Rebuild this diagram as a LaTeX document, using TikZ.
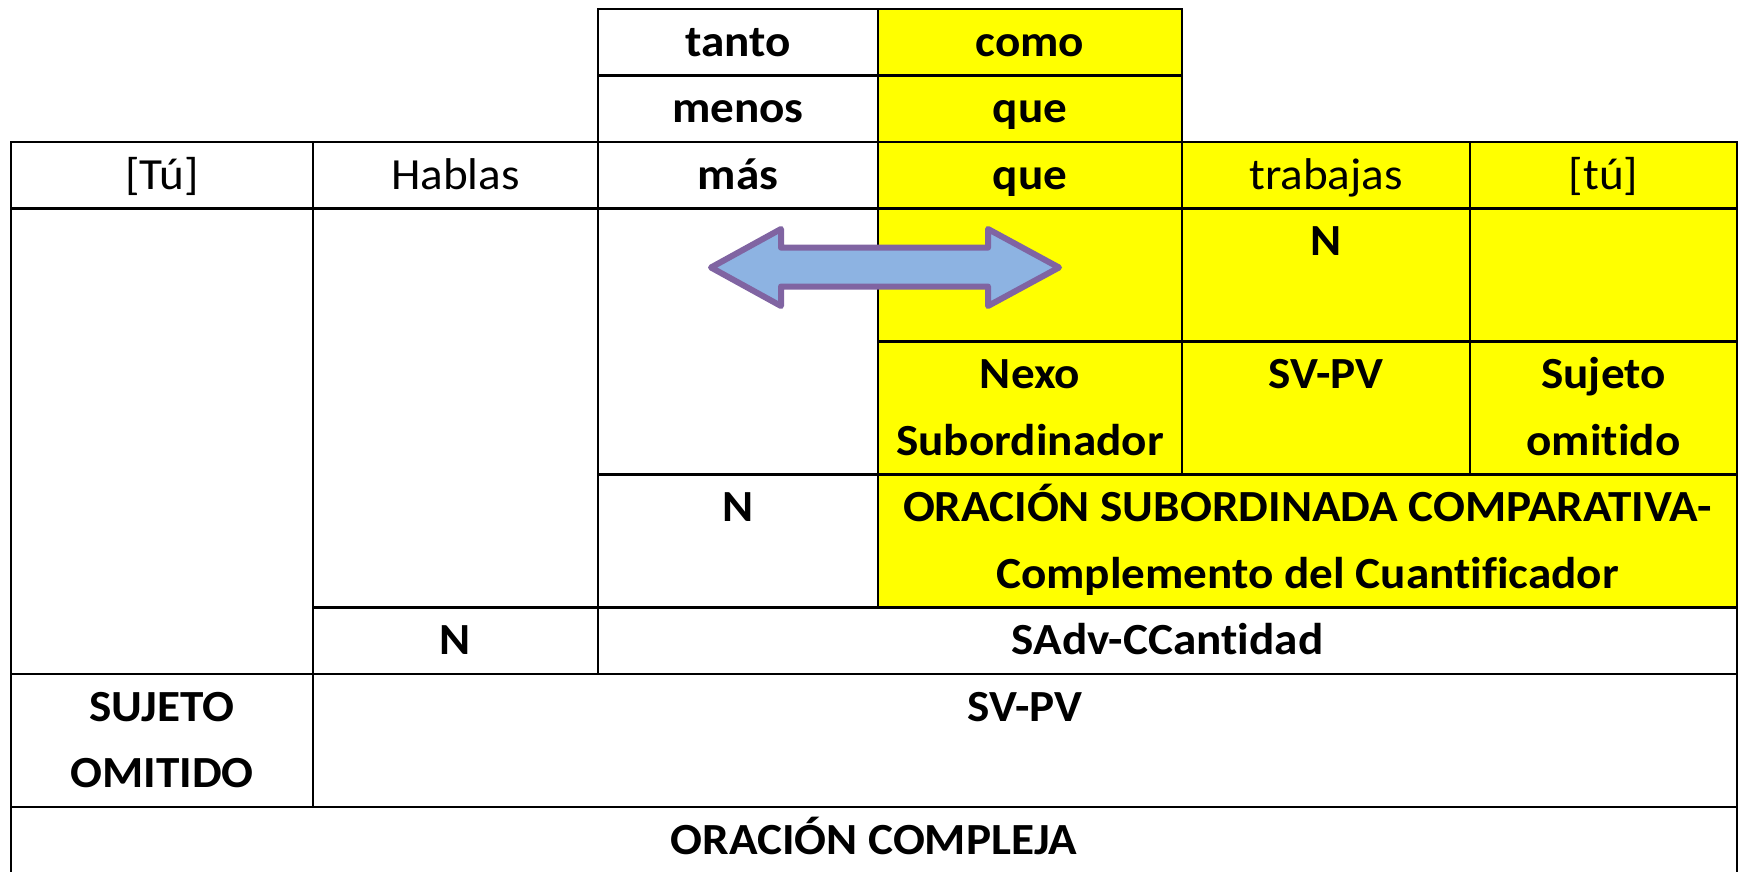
\documentclass[tikz,border=0pt]{standalone}
\usepackage{fontspec}
\setmainfont{Carlito}[FakeStretch=1.06,Ligatures=NoCommon]
\definecolor{yel}{HTML}{FFFF00}
\definecolor{arrfill}{HTML}{8DB3E2}
\definecolor{arrline}{HTML}{8064A2}
\begin{document}
\begin{tikzpicture}[x=1pt,y=-1pt,line width=2.5pt,
  ybox/.style={fill=yel,draw=black},
  wbox/.style={fill=white,draw=black},
  txt/.style={anchor=base,inner sep=0pt,font=\fontsize{44.5}{53}\selectfont},
  btxt/.style={anchor=base,inner sep=0pt,font=\fontsize{44.5}{53}\selectfont\bfseries},
  dblarrow/.style={fill=arrfill,draw=arrline,line width=6pt,line join=round}]
\useasboundingbox (0,0) rectangle (1740,872);
\clip (0,0) rectangle (1740,872);
% ---------- cells ----------
% top table
\path[wbox] (598,8.9) rectangle (878,75.4);
\path[ybox] (878,8.9) rectangle (1182,75.4);
\path[wbox] (598,75.4) rectangle (878,142);
\path[ybox] (878,75.4) rectangle (1182,142);
% word row
\path[wbox] (11,142) rectangle (313,208.5);
\path[wbox] (313,142) rectangle (598,208.5);
\path[wbox] (598,142) rectangle (878,208.5);
\path[ybox] (878,142) rectangle (1182,208.5);
\path[ybox] (1182,142) rectangle (1470,208.5);
\path[ybox] (1470,142) rectangle (1737,208.5);
% big block
\path[wbox] (11,208.5) rectangle (313,674);
\path[wbox] (313,208.5) rectangle (598,607.5);
\path[wbox] (598,208.5) rectangle (878,474.5);
\path[ybox] (878,208.5) rectangle (1182,341.5);
\path[ybox] (1182,208.5) rectangle (1470,341.5);
\path[ybox] (1470,208.5) rectangle (1737,341.5);
\path[ybox] (878,341.5) rectangle (1182,474.5);
\path[ybox] (1182,341.5) rectangle (1470,474.5);
\path[ybox] (1470,341.5) rectangle (1737,474.5);
\path[wbox] (598,474.5) rectangle (878,607.5);
\path[ybox] (878,474.5) rectangle (1737,607.5);
\path[wbox] (313,607.5) rectangle (598,674);
\path[wbox] (598,607.5) rectangle (1737,674);
\path[wbox] (11,674) rectangle (313,807);
\path[wbox] (313,674) rectangle (1737,807);
\path[wbox] (11,807) rectangle (1737,873.5);
% ---------- texts ----------
\node[btxt] (tanto) at (738,56.2) {tanto};
\node[btxt] (como) at (1030,56.2) {como};
\node[btxt] (menos) at (738,122.7) {menos};
\node[btxt] (que1) at (1030,122.7) {que};
\node[txt] (tu) at (162,189.3) {[Tú]};
\node[txt] (hablas) at (455.5,189.3) {Hablas};
\node[btxt] (mas) at (738,189.3) {más};
\node[btxt] (que2) at (1030,189.3) {que};
\node[txt] (trabajas) at (1326,189.3) {trabajas};
\node[txt] (tu2) at (1603.5,189.3) {[tú]};
\node[btxt] (Ntrab) at (1326,255.8) {N};
\node[btxt] (nexo1) at (1030,388.8) {Nexo};
\node[btxt] (nexo2) at (1030,455.3) {Subordinador};
\node[btxt] (svpv2) at (1326,388.8) {SV-PV};
\node[btxt] (suj1) at (1603.5,388.8) {Sujeto};
\node[btxt] (suj2) at (1603.5,455.3) {omitido};
\node[btxt] (Nmas) at (738,521.8) {N};
\node[btxt] (osc1) at (1307.5,521.8) {ORACIÓN SUBORDINADA COMPARATIVA-};
\node[btxt] (osc2) at (1307.5,588.3) {Complemento del Cuantificador};
\node[btxt] (Nhab) at (455.5,654.8) {N};
\node[btxt] (sadv) at (1167.5,654.8) {SAdv-CCantidad};
\node[btxt] (SUJ1) at (162,721.3) {SUJETO};
\node[btxt] (SUJ2) at (162,787.8) {OMITIDO};
\node[btxt] (svpv) at (1025,721.3) {SV-PV};
\node[btxt] (oc) at (874,854.3) {ORACIÓN COMPLEJA};
% ---------- double arrow ----------
\path[dblarrow] (711,267.5) -- (781,229) -- (781,247.7) -- (988,247.7) -- (988,229)
  -- (1059,267.5) -- (988,306) -- (988,286.5) -- (781,286.5) -- (781,306) -- cycle;
\end{tikzpicture}
\end{document}
